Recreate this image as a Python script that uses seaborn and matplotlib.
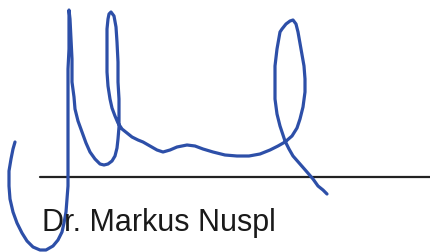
import matplotlib
matplotlib.use('Agg')
import matplotlib.pyplot as plt
import seaborn as sns
import pandas as pd

# signature stroke, traced in pixel coords (y down)
sig_x = [15, 13, 11, 9, 9, 10, 13, 17, 22, 27, 33, 40, 46, 53, 58, 62, 64, 66, 67, 68,
         68, 68, 68, 68, 68, 68, 69, 69, 69,
         70, 71, 72, 72, 74, 75, 78, 82, 86, 90, 95, 100, 104, 108, 112, 115, 117, 118,
         119, 119, 119, 118, 118, 117, 116, 114, 111, 109, 108, 107, 107, 107, 107, 108,
         110, 112, 115, 118, 122, 127, 132, 138, 143, 150, 157, 163, 170, 177, 187, 195,
         203, 213, 225, 237, 249, 260, 270, 278, 285, 292, 297, 300, 303, 305, 305, 304,
         301, 298, 296, 293, 290, 286, 282, 280, 277, 275, 275, 275, 277, 280, 285, 289,
         293, 300, 307, 313, 318, 323, 327]
sig_y = [143, 150, 160, 172, 187, 200, 213, 224, 234, 242, 248, 251, 251, 247, 241, 233,
         224, 213, 200, 187, 170, 150, 130, 110, 90, 70, 50, 30, 11,
         20, 40, 60, 83, 98, 110, 122, 133, 144, 153, 160, 165, 166, 165, 162, 157, 149,
         140, 128, 117, 100, 83, 63, 43, 28, 17, 13, 15, 20, 30, 43, 58, 73, 87, 100, 109,
         117, 124, 130, 134, 138, 141, 143, 147, 151, 153, 151, 148, 146, 147, 150, 153,
         156, 157, 157, 155, 151, 147, 143, 137, 129, 120, 108, 93, 80, 67, 50, 33, 25, 21,
         22, 25, 30, 33, 50, 67, 84, 100, 115, 127, 142, 150, 157, 165, 173, 180, 187, 191,
         195]

line_x = [40, 431]
line_y = [178, 178]
name = 'Dr. Markus Nuspl'

sns.set_style('white')
plt.rcParams['font.family'] = ['Liberation Sans', 'DejaVu Sans']

fig, ax = plt.subplots(figsize=(4.31, 2.53), dpi=100)
fig.subplots_adjust(0, 0, 1, 1)

sns.lineplot(x=line_x, y=line_y, color='#222222', linewidth=1.6, ax=ax)
df = pd.DataFrame({'x': sig_x, 'y': sig_y})
sns.lineplot(data=df, x='x', y='y', sort=False, estimator=None,
             color='#2d4fa8', linewidth=2.3, ax=ax,
             solid_joinstyle='round', solid_capstyle='round')

ax.text(42, 231, name, fontsize=22, color='#1a1a1a', va='baseline', ha='left')

ax.set_xlim(0, 431)
ax.set_ylim(253, 0)
ax.axis('off')

plt.savefig('out.png', dpi=100)
